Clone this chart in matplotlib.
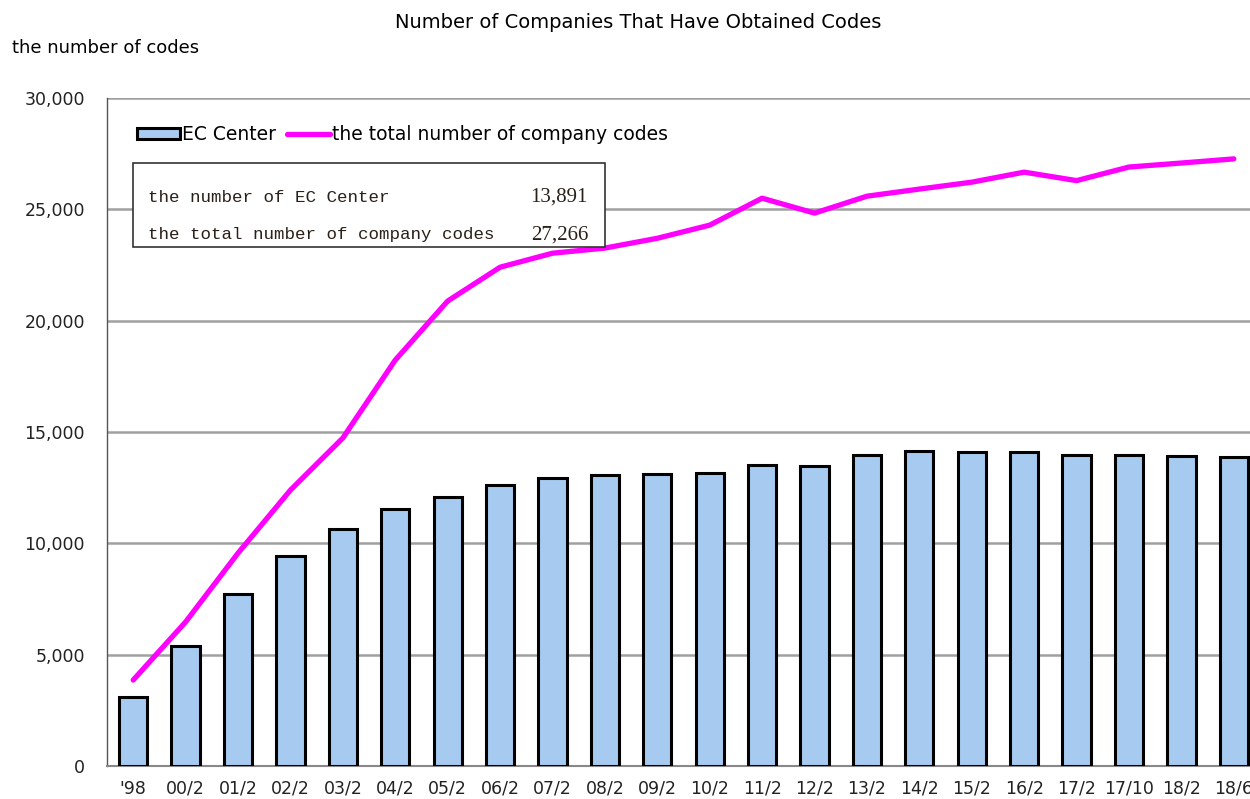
import numpy as np
import matplotlib.pyplot as plt
from matplotlib.ticker import FuncFormatter

# Datos
periods = ["'98", "00/2", "01/2", "02/2", "03/2", "04/2", "05/2", "06/2", "07/2",
           "08/2", "09/2", "10/2", "11/2", "12/2", "13/2", "14/2", "15/2", "16/2",
           "17/2", "17/10", "18/2", "18/6"]
ec_center = [3100, 5380, 7720, 9430, 10650, 11560, 12070, 12640, 12950, 13090,
             13130, 13140, 13530, 13480, 13980, 14150, 14120, 14120, 13970,
             13970, 13930, 13891]
total_codes = [3860, 6470, 9560, 12390, 14730, 18230, 20880, 22400, 23030, 23260,
               23700, 24290, 25500, 24830, 25590, 25910, 26220, 26670, 26290,
               26900, 27080, 27266]

fig = plt.figure(figsize=(12.5, 7.99), dpi=100)
ax = fig.add_axes([107 / 1250, 33 / 799, 1153 / 1250, 668 / 799])

x = np.arange(len(periods))
bars = ax.bar(x, ec_center, width=0.54, color="#A6CAF0", edgecolor="black",
              linewidth=2.2, label="EC Center", zorder=3)
line, = ax.plot(x, total_codes, color="#FF00FF", linewidth=3.8, solid_capstyle="round",
                label="the total number of company codes", zorder=4)

ax.set_xlim(-0.5, len(periods) - 0.5)
ax.set_ylim(0, 30000)
ax.set_yticks(np.arange(0, 30001, 5000))
ax.yaxis.set_major_formatter(FuncFormatter(lambda v, p: f"{int(v):,}"))
ax.set_xticks(x)
ax.set_xticklabels(periods)
ax.tick_params(axis="both", length=0, labelsize=12.5, colors="#222222")
ax.tick_params(axis="x", pad=10)
ax.tick_params(axis="y", pad=16)
ax.grid(axis="y", color="#A0A0A0", linewidth=1.8, zorder=0)

for s in ["top", "right"]:
    ax.spines[s].set_visible(False)
ax.spines["left"].set_color("#555555")
ax.spines["left"].set_linewidth(1.0)
ax.spines["bottom"].set_color("#888888")
ax.spines["bottom"].set_linewidth(1.5)

ax.legend([bars, line], ["EC Center", "the total number of company codes"],
          loc="upper left", bbox_to_anchor=(0.011, 0.985), ncol=2,
          frameon=False, fontsize=13.5, handlelength=2.3, handleheight=0.5,
          handletextpad=0.1, columnspacing=0.6)

# Cuadro con los totales
box = plt.Rectangle((133 / 1250, (799 - 247) / 799), 472 / 1250, 84 / 799,
                    transform=fig.transFigure, facecolor="white",
                    edgecolor="#333333", linewidth=1.2, zorder=5)
fig.patches.append(box)
fig.text(148 / 1250, 1 - 197 / 799, "the number of EC Center", family="Liberation Mono",
         fontsize=12.6, va="center", ha="left", color="#2a2018", zorder=6)
fig.text(588 / 1250, 1 - 197 / 799, f"{ec_center[-1]:,}", family="Liberation Serif",
         fontsize=15, va="center", ha="right", color="#2a2018", zorder=6)
fig.text(148 / 1250, 1 - 235 / 799, "the total number of company codes",
         family="Liberation Mono", fontsize=12.6, va="center", ha="left",
         color="#2a2018", zorder=6)
fig.text(588 / 1250, 1 - 235 / 799, f"{total_codes[-1]:,}", family="Liberation Serif",
         fontsize=15, va="center", ha="right", color="#2a2018", zorder=6)

fig.text(638 / 1250, 1 - 22 / 799, "Number of Companies That Have Obtained Codes",
         fontsize=14, ha="center", va="center")
fig.text(12 / 1250, 1 - 48 / 799, "the number of codes", fontsize=13,
         ha="left", va="center")

fig.savefig("out.png", dpi=100)
